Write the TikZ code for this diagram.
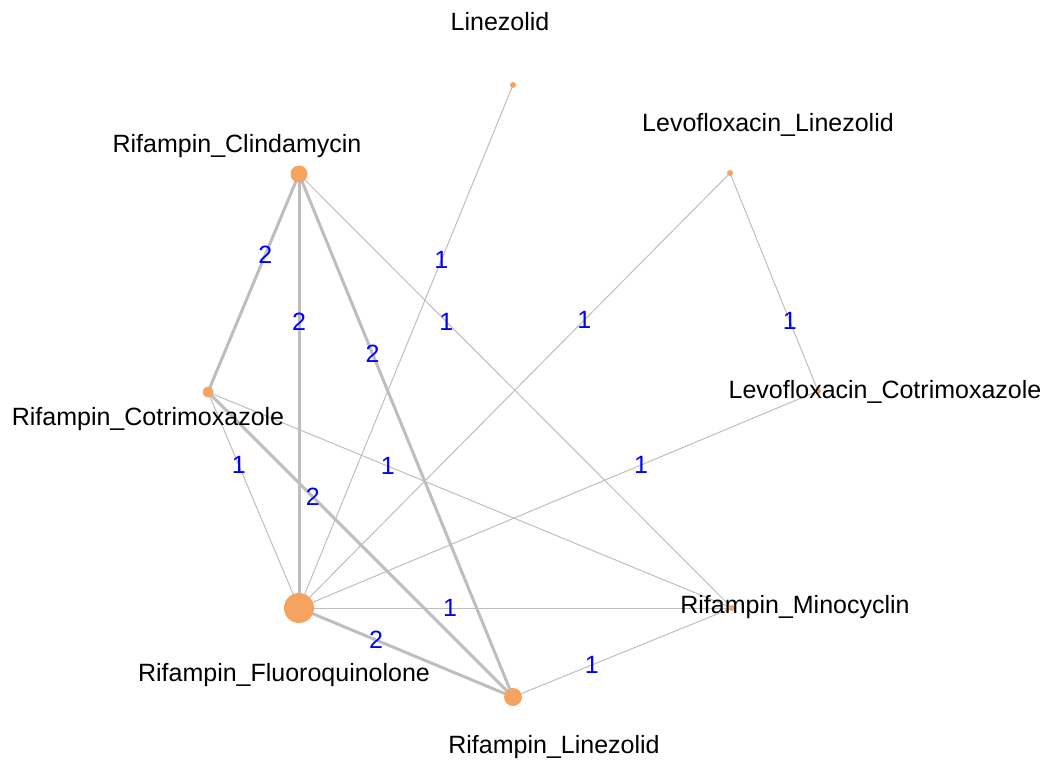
\documentclass[tikz,border=0pt]{standalone}
\usepackage{fontspec}
\setmainfont{Liberation Sans}
\definecolor{nodeor}{RGB}{244,164,96}
\definecolor{edgegr}{RGB}{190,190,190}
\definecolor{lblblue}{RGB}{0,0,255}
\begin{document}
\begin{tikzpicture}[x=1pt,y=-1pt,
  vtx/.style={circle,fill=nodeor,draw=none,inner sep=0pt,minimum size=#1},
  vname/.style={font=\fontsize{25}{30}\selectfont,text=black,inner sep=0pt},
  e1/.style={draw=edgegr,line width=1pt},
  e2/.style={draw=edgegr,line width=3pt},
  lb/.style={font=\fontsize{25}{30}\selectfont,text=lblblue,inner sep=0pt}]
\useasboundingbox (0,0) rectangle (1046,767);
% node coordinates
\coordinate (Lz) at (513,85);
\coordinate (LL) at (730,173);
\coordinate (RC) at (299,174);
\coordinate (RCo) at (208,392);
\coordinate (LC) at (818,391);
\coordinate (RF) at (299,608);
\coordinate (RM) at (732,608);
\coordinate (RL) at (513,697);
% edges
\draw[e2] (RC) -- node[lb,pos=0.37]{2} (RCo);
\draw[e2] (RC) -- node[lb,pos=0.34]{2} (RF);
\draw[e2] (RC) -- node[lb,pos=0.344]{2} (RL);
\draw[e1] (RC) -- node[lb,pos=0.34]{1} (RM);
\draw[e1] (RCo) -- node[lb,pos=0.338]{1} (RF);
\draw[e2] (RCo) -- node[lb,pos=0.344]{2} (RL);
\draw[e1] (RCo) -- node[lb,pos=0.343]{1} (RM);
\draw[e1] (RF) -- node[lb,pos=0.665]{1} (Lz);
\draw[e1] (RF) -- node[lb,pos=0.662]{1} (LL);
\draw[e1] (RF) -- node[lb,pos=0.659]{1} (LC);
\draw[e1] (RF) -- node[lb,pos=0.349]{1} (RM);
\draw[e2] (RF) -- node[lb,pos=0.36]{2} (RL);
\draw[e1] (RL) -- node[lb,pos=0.36]{1} (RM);
\draw[e1] (LL) -- node[lb,pos=0.68]{1} (LC);
% vertices
\node[vtx=6pt] (nLz) at (Lz) {};
\node[vtx=6pt] (nLL) at (LL) {};
\node[vtx=17pt] (nRC) at (RC) {};
\node[vtx=11pt] (nRCo) at (RCo) {};
\node[vtx=6pt] (nLC) at (LC) {};
\node[vtx=30pt] (nRF) at (RF) {};
\node[vtx=6pt] (nRM) at (RM) {};
\node[vtx=18pt] (nRL) at (RL) {};
% labels
\node[vname] (tLz) at (500,22) {Linezolid};
\node[vname] (tLL) at (768,125) {Levofloxacin\_Linezolid};
\node[vname] (tRC) at (237,146) {Rifampin\_Clindamycin};
\node[vname] (tRCo) at (148,419) {Rifampin\_Cotrimoxazole};
\node[vname] (tLC) at (885,392) {Levofloxacin\_Cotrimoxazole};
\node[vname] (tRM) at (795,607) {Rifampin\_Minocyclin};
\node[vname] (tRF) at (284,675) {Rifampin\_Fluoroquinolone};
\node[vname] (tRL) at (554,747) {Rifampin\_Linezolid};
\end{tikzpicture}
\end{document}
